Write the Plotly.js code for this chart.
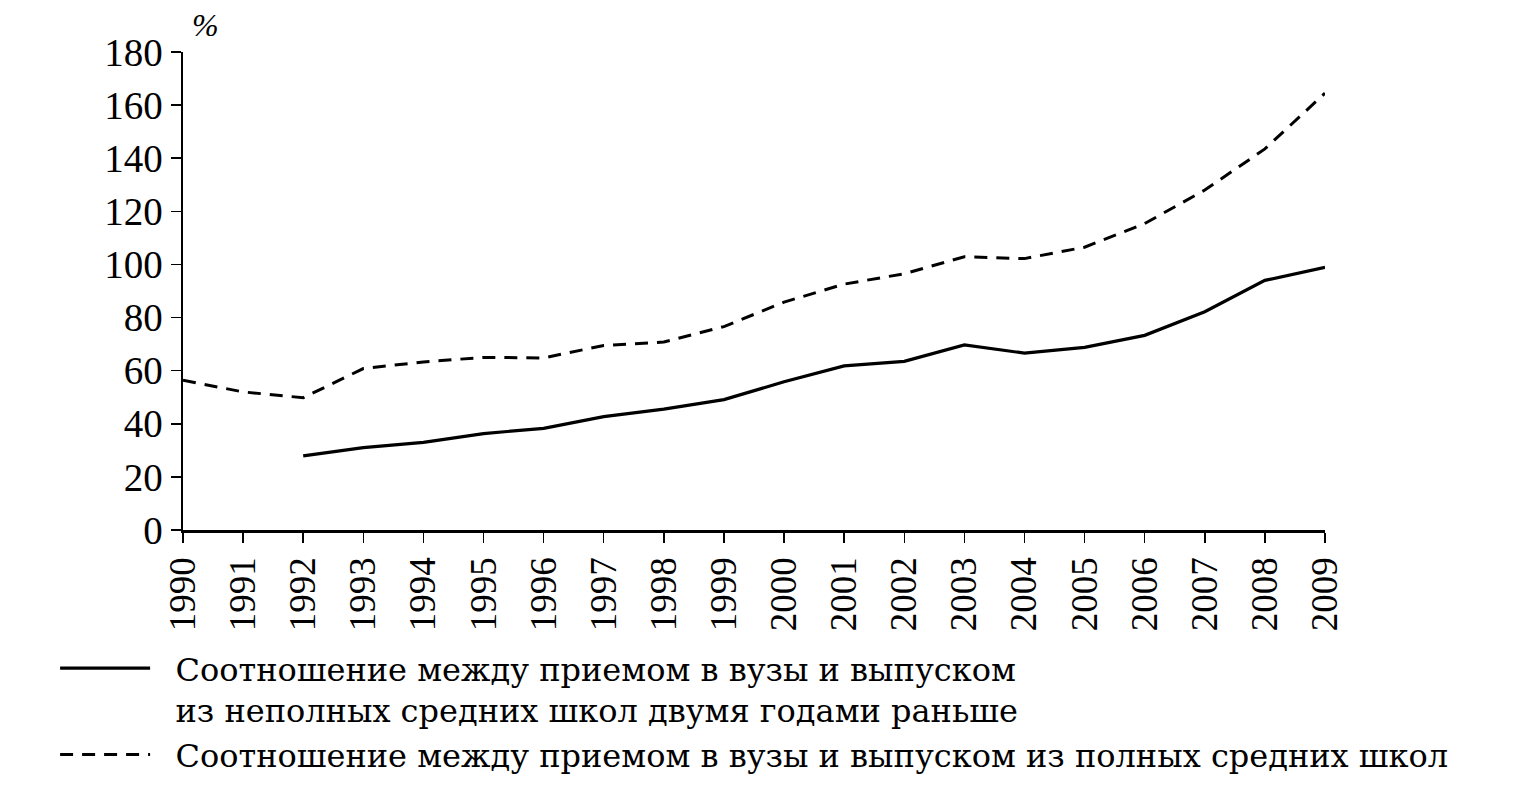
<!DOCTYPE html>
<html>
<head>
<meta charset="utf-8">
<script src="https://cdn.plot.ly/plotly-3.0.1.min.js"></script>
<style>
  body { margin: 0; background: #fff; }
  #chart { width: 1531px; height: 797px; }
</style>
</head>
<body>
<div id="chart"></div>
<script>
const years = ['1990', '1991', '1992', '1993', '1994', '1995', '1996', '1997', '1998', '1999',
  '2000', '2001', '2002', '2003', '2004', '2005', '2006', '2007', '2008', '2009']

// прием в вузы / выпуск из неполных средних школ двумя годами раньше
const basicSchool = [null, null, 27.9, 31, 33, 36.3, 38.3, 42.7, 45.5, 49.1,
  55.8, 61.8, 63.5, 69.7, 66.6, 68.8, 73.3, 82.2, 94, 98.9]

// прием в вузы / выпуск из полных средних школ
const fullSchool = [56.4, 52, 49.8, 60.8, 63.3, 65, 64.8, 69.5, 70.8, 76.6,
  85.8, 92.6, 96.5, 102.9, 102.2, 106.5, 115.4, 128, 143.5, 164.5]

const yTicks = [0, 20, 40, 60, 80, 100, 120, 140, 160, 180]

const serif = "'Liberation Serif', 'Times New Roman', serif"
const wideSerif = "'DejaVu Serif', 'Liberation Serif', serif"
const pad = '\u00a0\u00a0'

const traces = [
  {
    x: years,
    y: basicSchool,
    type: 'scatter',
    mode: 'lines',
    name: pad + 'Соотношение между приемом в вузы и выпуском<br>' + pad + 'из неполных средних школ двумя годами раньше',
    line: { color: '#000', width: 3.2 },
    connectgaps: false
  },
  {
    x: years,
    y: fullSchool,
    type: 'scatter',
    mode: 'lines',
    name: pad + 'Соотношение между приемом в вузы и выпуском из полных средних школ',
    line: { color: '#000', width: 3, dash: '13px,9px' }
  }
]

const layout = {
  width: 1531,
  height: 797,
  margin: { l: 183, r: 206, t: 52, b: 267 },
  paper_bgcolor: '#fff',
  plot_bgcolor: '#fff',
  font: { family: serif, color: '#000', size: 38 },
  showlegend: true,
  legend: {
    orientation: 'v',
    x: -0.112,
    xanchor: 'left',
    y: -0.232,
    yanchor: 'top',
    valign: 'top',
    itemwidth: 90,
    tracegroupgap: 0,
    font: { family: wideSerif, size: 32, color: '#000' },
    bgcolor: 'rgba(0,0,0,0)'
  },
  xaxis: {
    type: 'category',
    range: [0, years.length - 1],
    tickangle: -90,
    ticks: 'outside',
    ticklen: 10,
    tickwidth: 1.5,
    tickcolor: '#000',
    showline: true,
    linecolor: '#000',
    linewidth: 2.5,
    showgrid: false,
    zeroline: false,
    tickfont: { family: serif, size: 37 }
  },
  yaxis: {
    range: [0, 180],
    tickvals: yTicks,
    ticks: 'outside',
    ticklen: 10,
    tickwidth: 1.5,
    tickcolor: '#000',
    showline: true,
    linecolor: '#000',
    linewidth: 2.5,
    showgrid: false,
    zeroline: false,
    tickfont: { family: serif, size: 39 }
  },
  annotations: [
    {
      text: '<i>%</i>',
      xref: 'paper',
      yref: 'paper',
      x: 0.006,
      y: 1.015,
      xanchor: 'left',
      yanchor: 'bottom',
      showarrow: false,
      font: { family: serif, size: 32 }
    }
  ]
}

Plotly.newPlot('chart', traces, layout, { staticPlot: true })
</script>
</body>
</html>
